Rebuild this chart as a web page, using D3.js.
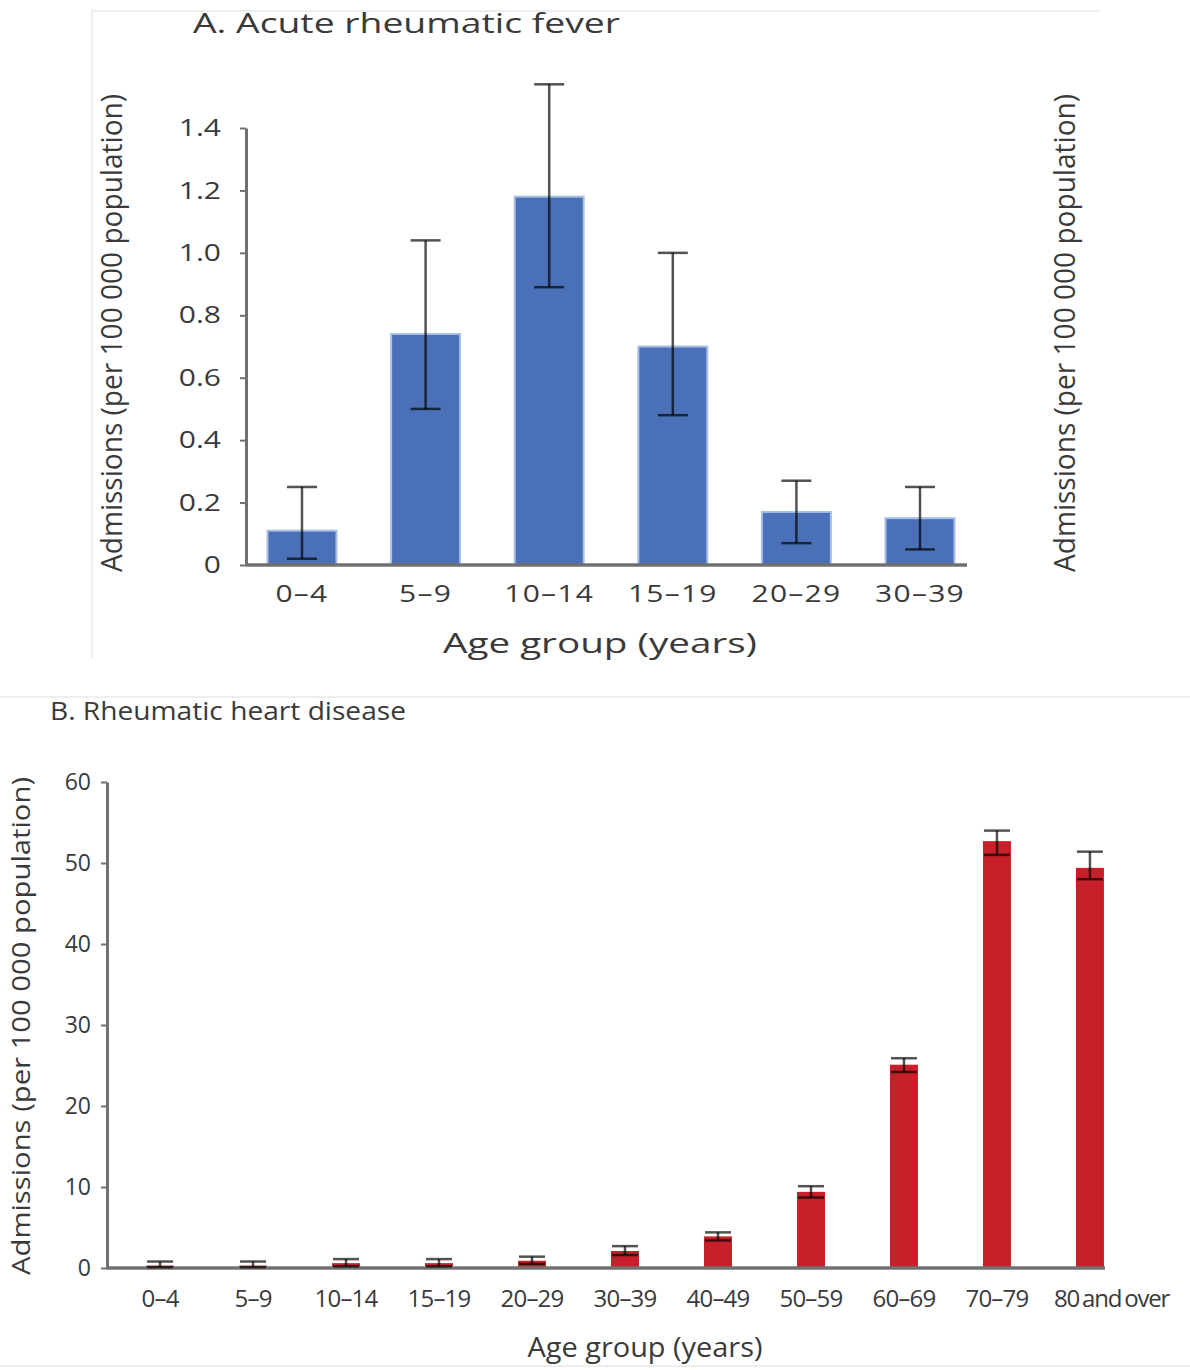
<!DOCTYPE html>
<html><head><meta charset="utf-8">
<script src="https://cdn.jsdelivr.net/npm/d3@7"></script>
<style>
body{margin:0;background:#fff}
svg{display:block}
text{font-family:"Open Sans",sans-serif;fill:#3a3a3a}
</style>
</head><body>
<svg id="c" width="1190" height="1370"></svg>
<script>
// ---- Panel A: Acute rheumatic fever ----
const ageGroupsA = ["0–4","5–9","10–14","15–19","20–29","30–39"];
const rateA = [0.11,0.74,1.18,0.70,0.17,0.15];
const lowA  = [0.02,0.50,0.89,0.48,0.07,0.05];
const highA = [0.25,1.04,1.54,1.00,0.27,0.25];
const ticksA = [0,0.2,0.4,0.6,0.8,1.0,1.2,1.4];
const tickLabelsA = ["0","0.2","0.4","0.6","0.8","1.0","1.2","1.4"];

// ---- Panel B: Rheumatic heart disease ----
const ageGroupsB = ["0–4","5–9","10–14","15–19","20–29","30–39","40–49","50–59","60–69","70–79","80 and over"];
const rateB = [0.3,0.3,0.6,0.6,0.9,2.1,3.9,9.4,25.1,52.7,49.4];
const lowB  = [0.1,0.1,0.2,0.2,0.5,1.6,3.4,8.7,24.2,51.0,48.0];
const highB = [0.8,0.8,1.1,1.1,1.4,2.7,4.4,10.1,25.9,54.0,51.4];
const ticksB = [0,10,20,30,40,50,60];
const tickLabelsB = ["0","10","20","30","40","50","60"];

const yTitle = "Admissions (per 100 000 population)";
const xTitle = "Age group (years)";

const svg = d3.select("#c");

// faint panel frames
svg.append("path").attr("d","M92,658V11H1100").attr("fill","none").attr("stroke","#eeeeee").attr("stroke-width",2);
svg.append("path").attr("d","M0,697H1190").attr("fill","none").attr("stroke","#eeeeee").attr("stroke-width",2);
svg.append("path").attr("d","M0,1366H1190").attr("fill","none").attr("stroke","#eeeeee").attr("stroke-width",2);

function panel(o){
  const g = svg.append("g");
  const x = d3.scaleBand().domain(o.cats).range(o.xr).paddingInner(o.pi).paddingOuter(o.po);
  const y = d3.scaleLinear().domain([0,o.max]).range(o.yr);

  // bars
  g.selectAll("rect.bar").data(o.vals).join("rect")
    .attr("x",(d,i)=>x(o.cats[i]))
    .attr("y",d=>y(d))
    .attr("width",x.bandwidth())
    .attr("height",d=>y(0)-y(d))
    .attr("fill",o.color)
    .attr("stroke",o.edge).attr("stroke-width",o.edgeW);

  // y axis
  const ya = d3.axisLeft(y).tickValues(o.ticks).tickFormat((d,i)=>o.tickLabels[i]).tickSize(o.tickSize).tickSizeOuter(0).tickPadding(o.tickPad);
  const yg = g.append("g").attr("transform",`translate(${o.xr[0]},0)`).call(ya);
  yg.select(".domain").attr("stroke","#707070").attr("stroke-width",3);
  yg.selectAll(".tick line").attr("stroke","#707070").attr("stroke-width",2);
  yg.selectAll(".tick text").attr("font-size",o.tickFont).attr("fill","#3a3a3a")
    .style("font-family","'Open Sans',sans-serif").attr("letter-spacing",o.yLS)
    .attr("transform",`scale(${o.sx},1)`);

  // baseline
  g.append("line").attr("x1",o.xr[0]).attr("x2",o.baseEnd).attr("y1",y(0)).attr("y2",y(0))
    .attr("stroke","#707070").attr("stroke-width",3.5);

  // x axis labels
  const xa = d3.axisBottom(x).tickSize(0).tickPadding(o.xPad);
  const xg = g.append("g").attr("transform",`translate(0,${y(0)})`).call(xa);
  xg.select(".domain").remove();
  xg.selectAll(".tick text").attr("font-size",o.xFont).attr("fill","#3a3a3a")
    .style("font-family","'Open Sans',sans-serif").attr("letter-spacing",o.xLS)
    .attr("transform",`scale(${o.sx},1)`);
  if(o.lastStart!=null){
    xg.selectAll(".tick text").filter((d,i,n)=>i===n.length-1)
      .attr("text-anchor","start").attr("x",o.lastStart).attr("letter-spacing",o.lastLS).attr("word-spacing",o.lastWS);
  }

  // error bars
  const cx = i=>x(o.cats[i])+x.bandwidth()/2;
  const eb = g.selectAll("g.eb").data(o.vals).join("g").attr("class","eb");
  eb.append("line").attr("x1",(d,i)=>cx(i)).attr("x2",(d,i)=>cx(i)).attr("y1",(d,i)=>y(o.low[i])).attr("y2",(d,i)=>y(o.high[i]));
  eb.append("line").attr("x1",(d,i)=>cx(i)-o.cap).attr("x2",(d,i)=>cx(i)+o.cap).attr("y1",(d,i)=>y(o.low[i])).attr("y2",(d,i)=>y(o.low[i]));
  eb.append("line").attr("x1",(d,i)=>cx(i)-o.cap).attr("x2",(d,i)=>cx(i)+o.cap).attr("y1",(d,i)=>y(o.high[i])).attr("y2",(d,i)=>y(o.high[i]));
  eb.selectAll("line").attr("stroke","rgba(0,0,0,0.68)").attr("stroke-width",o.ebW);

  // titles
  g.append("text").attr("x",o.titleX).attr("y",o.titleY).attr("font-size",o.titleFont)
    .attr("textLength",o.titleLen).attr("lengthAdjust","spacingAndGlyphs").text(o.title);
  g.append("text").attr("x",o.xTitleX).attr("y",o.xTitleY).attr("text-anchor","middle").attr("font-size",o.xTitleFont)
    .attr("textLength",o.xTitleLen).attr("lengthAdjust","spacingAndGlyphs").text(xTitle);
  o.yTitleX.forEach(yx=>{
    g.append("text").attr("transform",`translate(${yx},${o.yTitleY}) rotate(-90)`).attr("text-anchor","middle")
      .attr("font-size",o.yTitleFont).attr("textLength",o.yTitleLen).attr("lengthAdjust","spacingAndGlyphs").text(yTitle);
  });
}

panel({
  cats:ageGroupsA, vals:rateA, low:lowA, high:highA, max:1.4,
  ticks:ticksA, tickLabels:tickLabelsA,
  xr:[246,976], pi:0.442, po:0.174, yr:[565,128], baseEnd:967,
  color:"#4a71b8", edge:"#a9bfe3", edgeW:2,
  tickSize:6, tickPad:14, tickFont:24, yLS:"0px", sx:1.25,
  xPad:20, xFont:24, xLS:"1px",
  cap:15, ebW:2.5,
  title:"A. Acute rheumatic fever", titleX:193, titleY:33, titleFont:28, titleLen:427,
  xTitleX:600, xTitleY:653, xTitleFont:28, xTitleLen:314,
  yTitleX:[122,1075], yTitleY:333, yTitleFont:29, yTitleLen:478
});

panel({
  cats:ageGroupsB, vals:rateB, low:lowB, high:highB, max:60,
  ticks:ticksB, tickLabels:tickLabelsB,
  xr:[107,1143], pi:0.699, po:0.42, yr:[1268,782], baseEnd:1105,
  color:"#c8202a", edge:"#c8202a", edgeW:0,
  tickSize:6, tickPad:10, tickFont:23, yLS:"0px", sx:1,
  xPad:22, xFont:24, xLS:"-0.8px",
  lastStart:-36, lastLS:"-1.2px", lastWS:"-2px",
  cap:13, ebW:2.5,
  title:"B. Rheumatic heart disease", titleX:50, titleY:720, titleFont:26, titleLen:356,
  xTitleX:645, xTitleY:1357, xTitleFont:27, xTitleLen:235,
  yTitleX:[30], yTitleY:1026, yTitleFont:26, yTitleLen:498
});
</script>
</body></html>
